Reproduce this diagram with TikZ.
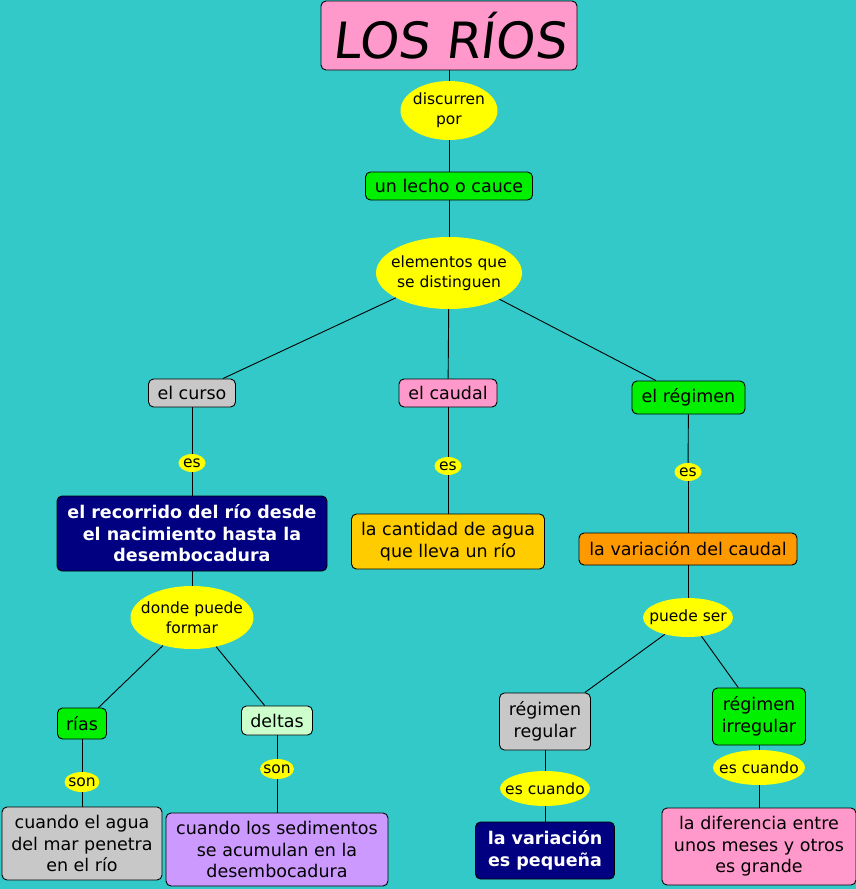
\documentclass[tikz,border=0pt]{standalone}
\usepackage{fontspec}
\setmainfont{DejaVu Sans}
\newfontfamily\titlefont[FakeSlant=0.12]{DejaVu Sans}
\usetikzlibrary{shapes.geometric}
\definecolor{bg}{HTML}{33C9C9}
\definecolor{pinkc}{HTML}{FF99CC}
\definecolor{greenc}{HTML}{00F000}
\definecolor{grayc}{HTML}{C8C8C8}
\definecolor{navyc}{HTML}{000080}
\definecolor{orangec}{HTML}{FFCC00}
\definecolor{orange2}{HTML}{FF9900}
\definecolor{lgreen}{HTML}{CCFFCC}
\definecolor{lavc}{HTML}{CC99FF}
\definecolor{yel}{HTML}{FFFF00}
\tikzset{
  box/.style={draw=black, line width=0.9pt, rounded corners=5pt, inner sep=0pt, align=center,
    font=\fontsize{17.5}{21.5}\selectfont},
  navybox/.style={box, fill=navyc, text=white, font=\fontsize{17.5}{21.5}\selectfont\bfseries},
  ell/.style={ellipse, fill=yel, inner sep=0pt},
  lbl/.style={align=center, inner sep=0pt, font=\fontsize{15.5}{20}\selectfont},
  conn/.style={draw=black, line width=0.9pt}
}
\begin{document}
\begin{tikzpicture}[x=1pt,y=-1pt]
\fill[bg] (0,0) rectangle (856,889);
\useasboundingbox (0,0) rectangle (856,889);

% top chain
\node[box, fill=pinkc, minimum width=256, minimum height=69, font=\fontsize{50}{55}\titlefont] (title) at (449,35.5) {LOS RÍOS};
\node[ell, minimum width=97, minimum height=59, label={[lbl]center:discurren\\por}] (discurren) at (449,110.5) {};
\node[box, fill=greenc, minimum width=167, minimum height=28] (lecho) at (449,186) {un lecho o cauce};
\node[ell, minimum width=146, minimum height=72, label={[lbl]center:elementos que\\se distinguen}] (elementos) at (449,273) {};

% level 2
\node[box, fill=grayc, minimum width=87, minimum height=28] (curso) at (192,393) {el curso};
\node[box, fill=pinkc, minimum width=98, minimum height=28] (caudal) at (448,393) {el caudal};
\node[box, fill=greenc, minimum width=113, minimum height=33] (regimen) at (688.5,397.5) {el régimen};

\node[ell, minimum width=27, minimum height=18, label={[lbl]center:es}] (es1) at (192,463) {};
\node[ell, minimum width=27, minimum height=18, label={[lbl]center:es}] (es2) at (448,466) {};
\node[ell, minimum width=27, minimum height=18, label={[lbl]center:es}] (es3) at (688,472) {};

\node[navybox, minimum width=270, minimum height=75] (recorrido) at (192,533.5) {el recorrido del río desde\\el nacimiento hasta la\\desembocadura};
\node[box, fill=orangec, minimum width=193, minimum height=55] (cantidad) at (448,541.5) {la cantidad de agua\\que lleva un río};
\node[box, fill=orange2, minimum width=218, minimum height=32] (variacion) at (688,549) {la variación del caudal};

\node[ell, minimum width=123, minimum height=63, label={[lbl]center:donde puede\\formar}] (donde) at (192,617.5) {};
\node[ell, minimum width=90, minimum height=39, label={[lbl]center:puede ser}] (puede) at (688,617.5) {};

% left bottom
\node[box, fill=greenc, minimum width=49, minimum height=31] (rias) at (82,723.5) {rías};
\node[box, fill=lgreen, minimum width=71, minimum height=29] (deltas) at (277,720.5) {deltas};
\node[ell, minimum width=35, minimum height=20, label={[lbl]center:son}] (son1) at (82,782) {};
\node[ell, minimum width=34, minimum height=20, label={[lbl]center:son}] (son2) at (277,769) {};
\node[box, fill=grayc, minimum width=160, minimum height=73] (agua) at (82,843.5) {cuando el agua\\del mar penetra\\en el río};
\node[box, fill=lavc, minimum width=222, minimum height=73] (sedim) at (277,849.5) {cuando los sedimentos\\se acumulan en la\\desembocadura};

% right bottom
\node[box, fill=grayc, minimum width=91, minimum height=57] (regular) at (545,721.5) {régimen\\regular};
\node[box, fill=greenc, minimum width=93, minimum height=57] (irregular) at (759,716.5) {régimen\\irregular};
\node[ell, minimum width=90, minimum height=35, label={[lbl]center:es cuando}] (escuando1) at (545,788.5) {};
\node[ell, minimum width=92, minimum height=35, label={[lbl]center:es cuando}] (escuando2) at (759,767.5) {};
\node[navybox, minimum width=139, minimum height=57] (pequena) at (545,850.5) {la variación\\es pequeña};
\node[box, fill=pinkc, minimum width=194, minimum height=77] (diferencia) at (759,846.5) {la diferencia entre\\unos meses y otros\\es grande};

% connectors
\draw[conn] (title) -- (discurren);
\draw[conn] (discurren) -- (lecho);
\draw[conn] (lecho) -- (elementos);
\draw[conn] (elementos) -- (curso);
\draw[conn] (elementos) -- (caudal);
\draw[conn] (elementos) -- (regimen);
\draw[conn] (curso) -- (es1);
\draw[conn] (es1) -- (recorrido);
\draw[conn] (caudal) -- (es2);
\draw[conn] (es2) -- (cantidad);
\draw[conn] (regimen) -- (es3);
\draw[conn] (es3) -- (variacion);
\draw[conn] (recorrido) -- (donde);
\draw[conn] (donde) -- (rias);
\draw[conn] (donde) -- (deltas);
\draw[conn] (rias) -- (son1);
\draw[conn] (son1) -- (agua);
\draw[conn] (deltas) -- (son2);
\draw[conn] (son2) -- (sedim);
\draw[conn] (variacion) -- (puede);
\draw[conn] (puede) -- (regular);
\draw[conn] (puede) -- (irregular);
\draw[conn] (regular) -- (escuando1);
\draw[conn] (escuando1) -- (pequena);
\draw[conn] (irregular) -- (escuando2);
\draw[conn] (escuando2) -- (diferencia);
\end{tikzpicture}
\end{document}
